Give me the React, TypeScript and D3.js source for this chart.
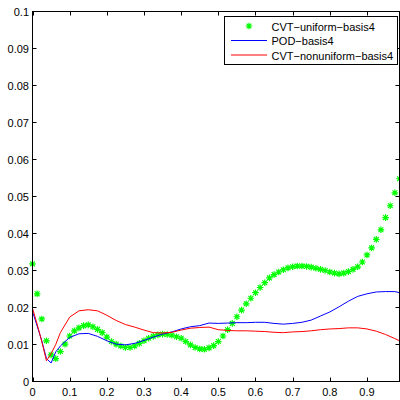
import React from "react";
import * as d3 from "d3";

const starX: number[] = d3.range(80).map((i) => i / 80);
const cvtUniform: number[] = [
  0.0318, 0.0237, 0.0169, 0.0110, 0.0072, 0.0062, 0.0081, 0.0101, 0.0123, 0.0137,
  0.0145, 0.0151, 0.0153, 0.0148, 0.0141, 0.0132, 0.0120, 0.0108, 0.0101, 0.0096,
  0.0092, 0.0092, 0.0096, 0.0103, 0.0110, 0.0117, 0.0122, 0.0126, 0.0128, 0.0127,
  0.0125, 0.0121, 0.0117, 0.0108, 0.0099, 0.0092, 0.0088, 0.0087, 0.0091, 0.0097,
  0.0108, 0.0123, 0.0140, 0.0157, 0.0175, 0.0193, 0.0210, 0.0225, 0.0240, 0.0254,
  0.0267, 0.0280, 0.0289, 0.0296, 0.0302, 0.0307, 0.0310, 0.0312, 0.0312, 0.0311,
  0.0309, 0.0306, 0.0303, 0.0300, 0.0296, 0.0293, 0.0291, 0.0293, 0.0297, 0.0303,
  0.0310, 0.0323, 0.0342, 0.0361, 0.0384, 0.0410, 0.0443, 0.0475, 0.0510, 0.0548,
];

const lineX: number[] = [
  0, 0.0125, 0.025, 0.0375, 0.05, 0.0625, 0.075, 0.1, 0.125, 0.15, 0.175, 0.2, 0.225, 0.25, 0.275, 0.3, 0.325,
  0.35, 0.375, 0.4, 0.425, 0.45, 0.475, 0.5, 0.525, 0.55, 0.575, 0.6, 0.625, 0.65,
  0.675, 0.7, 0.725, 0.75, 0.775, 0.8, 0.825, 0.85, 0.875, 0.9, 0.925, 0.95, 0.975, 0.9875,
];
const podBasis: number[] = [
  0.0189, 0.0150, 0.0110, 0.0062, 0.0050, 0.0080, 0.0096, 0.0119, 0.0129, 0.0130, 0.0122, 0.0110, 0.0101,
  0.0099, 0.0103, 0.0111, 0.0120, 0.0128, 0.0134, 0.0142, 0.0148, 0.0151, 0.0158,
  0.0157, 0.0158, 0.0159, 0.0159, 0.0160, 0.0160, 0.0157, 0.0155, 0.0157, 0.0160,
  0.0166, 0.0177, 0.0188, 0.0202, 0.0217, 0.0230, 0.0237, 0.0242, 0.0243, 0.0243, 0.0240,
];
const cvtNonuniform: number[] = [
  0.0198, 0.0155, 0.0108, 0.0056, 0.0075, 0.0100, 0.0132, 0.0174, 0.0191, 0.0194, 0.0191, 0.0179, 0.0165,
  0.0154, 0.0147, 0.0139, 0.0132, 0.0131, 0.0133, 0.0139, 0.0144, 0.0146, 0.0147,
  0.0140, 0.0138, 0.0137, 0.0137, 0.0136, 0.0135, 0.0133, 0.0132, 0.0134, 0.0135,
  0.0137, 0.0140, 0.0142, 0.0143, 0.0145, 0.0145, 0.0142, 0.0136, 0.0127, 0.0116, 0.0110,
];

const xTicks: number[] = [0, 0.1, 0.2, 0.3, 0.4, 0.5, 0.6, 0.7, 0.8, 0.9];
const xTickLabels: string[] = ["0", "0.1", "0.2", "0.3", "0.4", "0.5", "0.6", "0.7", "0.8", "0.9"];
const yTicks: number[] = [0, 0.01, 0.02, 0.03, 0.04, 0.05, 0.06, 0.07, 0.08, 0.09, 0.1];
const yTickLabels: string[] = ["0", "0.01", "0.02", "0.03", "0.04", "0.05", "0.06", "0.07", "0.08", "0.09", "0.1"];
const legendLabels: string[] = ["CVT\u2212uniform\u2212basis4", "POD\u2212basis4", "CVT\u2212nonuniform\u2212basis4"];

const FONT = "'Liberation Sans', Arial, Helvetica, sans-serif";

function Star({ x, y }: { x: number; y: number }) {
  const a = 3.3;
  const b = 2.4;
  const d = `M${x - a},${y}H${x + a}M${x},${y - a}V${y + a}M${x - b},${y - b}L${x + b},${y + b}M${x - b},${y + b}L${x + b},${y - b}`;
  return <path d={d} stroke="#00ff00" strokeWidth={1.2} fill="none" />;
}

export default function App() {
  const L = 32.5, R = 399.5, T = 11.5, B = 381.5;
  const x = d3.scaleLinear().domain([0, 0.9875]).range([L, R]);
  const y = d3.scaleLinear().domain([0, 0.1]).range([B, T]);
  const tk = 4;

  const podLine = d3.line<number>().x((_, i) => x(lineX[i])).y((d) => y(d))(podBasis) || "";
  const nonLine = d3.line<number>().x((_, i) => x(lineX[i])).y((d) => y(d))(cvtNonuniform) || "";

  const lgL = 224.5, lgR = 397.5, lgT = 16.5, lgB = 64.5;
  const rows = [26, 40.5, 55];

  return (
    <svg width={400} height={400} style={{ position: "absolute", left: 0, top: 0, background: "#fff" }}>
      <rect x={0} y={0} width={400} height={400} fill="#fff" />
      <defs>
        <clipPath id="plotclip">
          <rect x={L - 4} y={T} width={R - L + 8} height={B - T} />
        </clipPath>
      </defs>
      <g clipPath="url(#plotclip)">
        {cvtUniform.map((v, i) => (
          <Star key={i} x={x(starX[i])} y={y(v)} />
        ))}
        <path d={podLine} stroke="#0000ff" strokeWidth={1} fill="none" />
        <path d={nonLine} stroke="#ff0000" strokeWidth={1} fill="none" />
      </g>
      {xTicks.map((t, i) => {
        const px = Math.round(x(t)) + 0.5;
        return (
          <g key={"xt" + i}>
            <line x1={px} x2={px} y1={B} y2={B - tk} stroke="#000" />
            <line x1={px} x2={px} y1={T} y2={T + tk} stroke="#000" />
            <text x={x(t)} y={396} fontSize={11} fontFamily={FONT} textAnchor="middle" fill="#000">
              {xTickLabels[i]}
            </text>
          </g>
        );
      })}
      {yTicks.map((t, i) => {
        const py = Math.round(y(t) - 0.5) + 0.5;
        return (
          <g key={"yt" + i}>
            <line x1={L} x2={L + tk} y1={py} y2={py} stroke="#000" />
            <line x1={R} x2={R - tk} y1={py} y2={py} stroke="#000" />
            <text x={29} y={y(t) + 4} fontSize={11} fontFamily={FONT} textAnchor="end" fill="#000">
              {yTickLabels[i]}
            </text>
          </g>
        );
      })}
      <rect x={L} y={T} width={R - L} height={B - T} fill="none" stroke="#000" strokeWidth={1} />
      <rect x={lgL} y={lgT} width={lgR - lgL} height={lgB - lgT} fill="#fff" stroke="#000" strokeWidth={1} />
      <Star x={249} y={rows[0]} />
      <line x1={231} x2={267} y1={rows[1]} y2={rows[1]} stroke="#0000ff" />
      <line x1={231} x2={267} y1={rows[2]} y2={rows[2]} stroke="#ff0000" />
      {legendLabels.map((s, i) => (
        <text key={s} x={271.5} y={rows[i] + 4.5} fontSize={11} fontFamily={FONT} fill="#000">
          {s}
        </text>
      ))}
    </svg>
  );
}
